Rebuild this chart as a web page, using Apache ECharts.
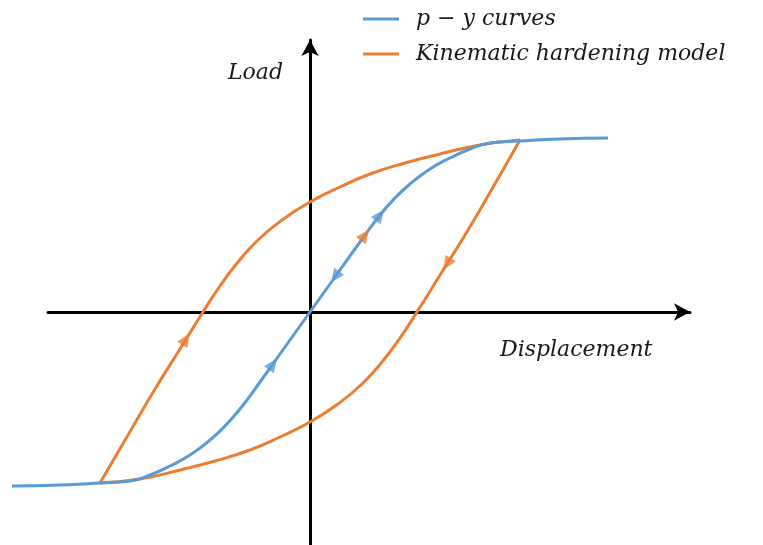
<!DOCTYPE html>
<html>
<head>
<meta charset="utf-8">
<script src="https://cdn.jsdelivr.net/npm/echarts@6/dist/echarts.min.js"></script>
<style>
  html, body { margin: 0; padding: 0; background: #fff; }
  #chart { width: 763px; height: 545px; }
</style>
</head>
<body>
<div id="chart"></div>
<script>
// Backbone p-y curve (displacement, load), point-symmetric about the origin
const pyCurve = [
  [-298, -174], [-250, -173], [-210, -171], [-180, -169], [-160, -163],
  [-140, -154], [-120, -143], [-100, -128], [-85, -114], [-70, -97],
  [-50, -70], [-25, -35], [0, 0], [25, 35], [50, 70], [70, 97],
  [85, 114], [100, 128], [120, 143], [140, 154], [160, 163],
  [180, 169], [210, 171], [250, 173], [298, 174]
];

// Kinematic hardening loop: reloading branch (bottom-left to top-right)
const khUpper = [
  [-210, -171], [-182, -123], [-155, -77], [-130, -37], [-107, 0],
  [-90, 26], [-72, 50], [-52, 72], [-28, 92], [0, 110], [30, 125],
  [60, 138], [95, 149], [130, 158], [170, 167], [210, 172]
];

// Kinematic hardening loop: unloading branch (top-right to bottom-left)
const khLower = [
  [210, 172], [182, 123], [155, 77], [130, 37], [107, 0],
  [90, -26], [72, -50], [52, -72], [28, -92], [0, -110], [-30, -125],
  [-60, -138], [-95, -149], [-130, -158], [-170, -167], [-210, -171]
];

// Direction markers: [displacement, load, +1 forward / -1 backward along the path]
const pyArrows = [[-37, -52, 1], [25, 35, -1], [70, 97, 1]];
const khArrows = [[-124, -27, 1], [137, 48, 1], [55, 77, 1]];
const khArrowPaths = ['upper', 'lower', 'py'];

const legendNames = ['p \u2212 y curves', 'Kinematic hardening model'];
const blue = '#5B9BD5';
const orange = '#ED7D31';

// Local tangent angle (degrees) of a polyline at x
function tangentAngle(path, x, dir) {
  let best = 0, bestD = Infinity;
  for (let i = 0; i < path.length - 1; i++) {
    const mx = (path[i][0] + path[i + 1][0]) / 2;
    const lo = Math.min(path[i][0], path[i + 1][0]);
    const hi = Math.max(path[i][0], path[i + 1][0]);
    const d = (x >= lo && x <= hi) ? 0 : Math.abs(mx - x);
    if (d < bestD) { bestD = d; best = i; }
  }
  const a = path[best], b = path[best + 1];
  let dx = b[0] - a[0], dy = b[1] - a[1];
  if (dir < 0) { dx = -dx; dy = -dy; }
  return Math.atan2(dy, dx) * 180 / Math.PI;
}

function arrowData(list, paths) {
  return list.map((p, i) => {
    const ang = tangentAngle(paths[i], p[0], p[2]);
    return { value: [p[0], p[1]], symbolRotate: ang - 90 };
  });
}

const pathLookup = { upper: khUpper, lower: khLower, py: pyCurve };

const chart = echarts.init(document.getElementById('chart'), null, { renderer: 'canvas' });

const font = "'DejaVu Serif', serif";
const axisArrow = {
  onZero: true, symbol: ['none', 'arrow'], symbolSize: [13, 16],
  lineStyle: { color: '#000', width: 3 }
};
const hidden = { axisTick: { show: false }, axisLabel: { show: false }, splitLine: { show: false } };

chart.setOption({
  animation: false,
  backgroundColor: '#ffffff',
  grid: [
    { left: 10, right: 73, top: 40, bottom: 0 },   // plotting area
    { left: 48, right: 73, top: 40, bottom: 0 }    // shorter horizontal axis
  ],
  legend: {
    orient: 'vertical',
    left: 358,
    top: 2,
    itemGap: 11,
    itemWidth: 36,
    itemHeight: 3,
    data: [
      { name: legendNames[0], icon: 'rect', itemStyle: { color: blue } },
      { name: legendNames[1], icon: 'rect', itemStyle: { color: orange } }
    ],
    textStyle: {
      fontFamily: font, fontStyle: 'italic', fontSize: 22, lineHeight: 24, color: '#1a1a1a',
      padding: [0, 0, 0, 12]
    }
  },
  xAxis: [
    Object.assign({ type: 'value', gridIndex: 0, min: -300, max: 380, axisLine: { show: false } }, hidden),
    Object.assign({ type: 'value', gridIndex: 1, min: -262, max: 380, axisLine: axisArrow }, hidden)
  ],
  yAxis: [
    Object.assign({ type: 'value', gridIndex: 0, min: -233, max: 272, axisLine: axisArrow }, hidden),
    Object.assign({ type: 'value', gridIndex: 1, min: -233, max: 272, axisLine: { show: false } }, hidden)
  ],
  graphic: [
    { type: 'text', left: 228, top: 62,
      style: { text: 'Load', font: "italic 22px 'DejaVu Serif', serif", fill: '#1a1a1a' } },
    { type: 'text', left: 500, top: 339,
      style: { text: 'Displacement', font: "italic 22px 'DejaVu Serif', serif", fill: '#1a1a1a' } }
  ],
  series: [
    {
      name: legendNames[1], type: 'line', data: khUpper, smooth: 0.5,
      showSymbol: false, z: 3,
      lineStyle: { color: orange, width: 3 }, itemStyle: { color: orange }
    },
    {
      name: legendNames[1], type: 'line', data: khLower, smooth: 0.5,
      showSymbol: false, z: 3,
      lineStyle: { color: orange, width: 3 }, itemStyle: { color: orange }
    },
    {
      name: legendNames[0], type: 'line', data: pyCurve, smooth: 0.5,
      showSymbol: false, z: 4,
      lineStyle: { color: blue, width: 3 }, itemStyle: { color: blue }
    },
    {
      name: legendNames[0], type: 'scatter', z: 5,
      symbol: 'triangle', symbolSize: [12, 14],
      itemStyle: { color: blue },
      data: arrowData(pyArrows, pyArrows.map(() => pyCurve))
    },
    {
      name: legendNames[1], type: 'scatter', z: 6,
      symbol: 'triangle', symbolSize: [12, 14],
      itemStyle: { color: orange },
      data: arrowData(khArrows, khArrowPaths.map(k => pathLookup[k]))
    }
  ]
});
</script>
</body>
</html>
